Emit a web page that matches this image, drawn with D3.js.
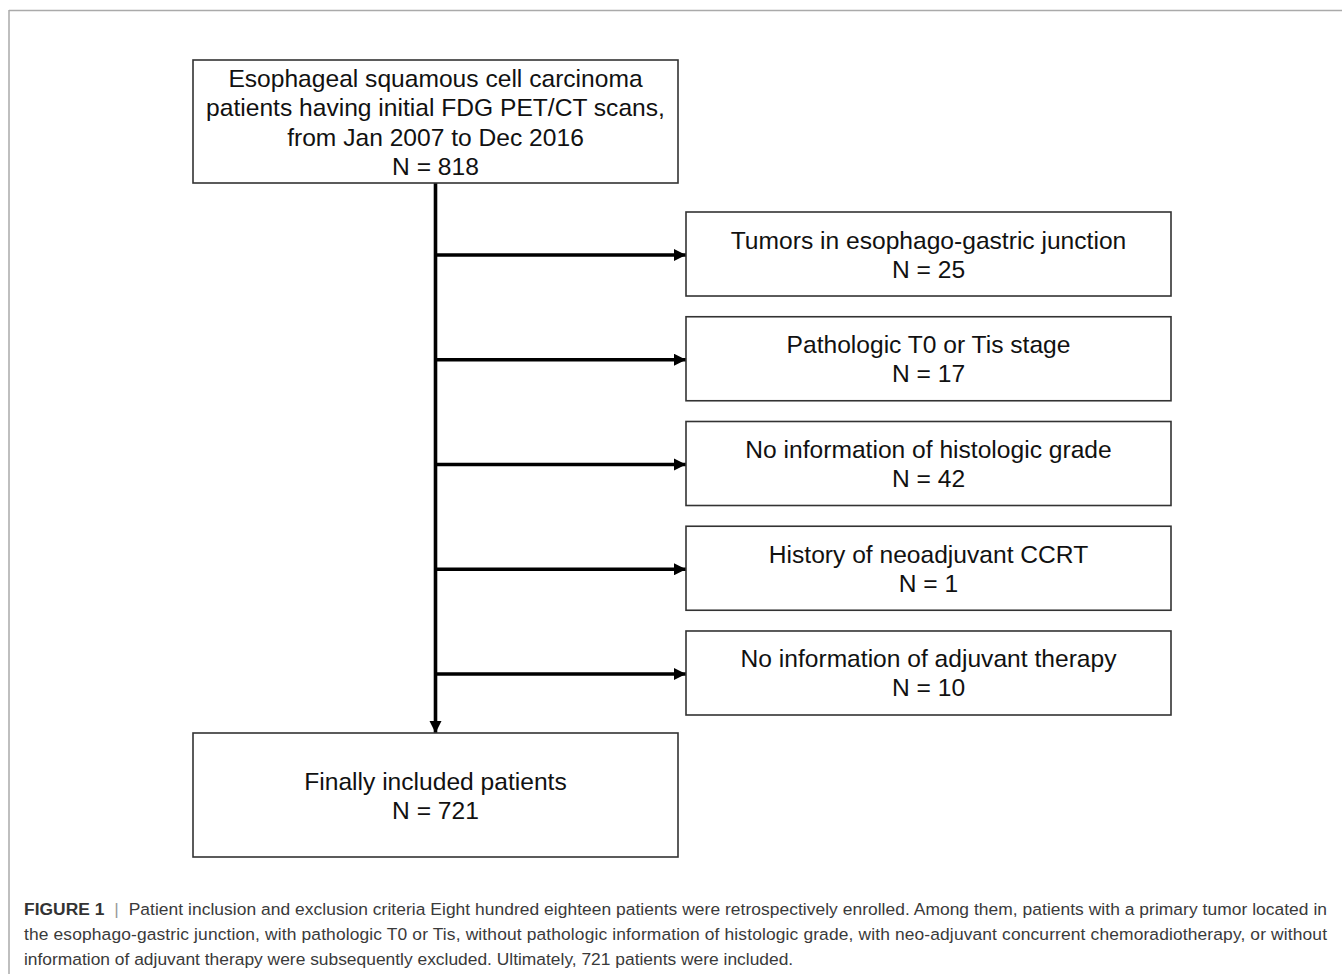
<!DOCTYPE html>
<html>
<head>
<meta charset="utf-8">
<script src="https://cdn.jsdelivr.net/npm/d3@7"></script>
<style>
  html, body { margin: 0; padding: 0; background: #fff; }
  svg { display: block; }
  .box { fill: #fff; stroke: #333; stroke-width: 1.6; }
  .box-text { font-family: "Liberation Sans", Arial, sans-serif; font-size: 24.6px; fill: #111; text-anchor: middle; }
  .caption { font-family: "Liberation Sans", Arial, sans-serif; font-size: 17.4px; fill: #3a3a3a; }
</style>
</head>
<body>
<div id="chart"></div>
<script>
// ---------- Data ----------
const startLines = [
    'Esophageal squamous cell carcinoma',
    'patients having initial FDG PET/CT scans,',
    'from Jan 2007 to Dec 2016'
];
const startCount = 818;

const excludedLabels = [
    'Tumors in esophago-gastric junction',
    'Pathologic T0 or Tis stage',
    'No information of histologic grade',
    'History of neoadjuvant CCRT',
    'No information of adjuvant therapy'
];
const excludedCounts = [25, 17, 42, 1, 10];

const finalLabel = 'Finally included patients';
const finalCount = 721;

const captionTitle = 'FIGURE 1';
const captionLines = [
    'Patient inclusion and exclusion criteria Eight hundred eighteen patients were retrospectively enrolled. Among them, patients with a primary tumor located in',
    'the esophago-gastric junction, with pathologic T0 or Tis, without pathologic information of histologic grade, with neo-adjuvant concurrent chemoradiotherapy, or without',
    'information of adjuvant therapy were subsequently excluded. Ultimately, 721 patients were included.'
];

// ---------- Layout ----------
const width = 1342, height = 974;
const mainX = [193, 678];
const sideX = [686, 1171];
const spineX = (mainX[0] + mainX[1]) / 2;
const topBox = [60, 183];
const bottomBox = [733, 857];

const svg = d3.select('#chart').append('svg')
    .attr('width', width)
    .attr('height', height);

svg.append('defs').append('marker')
    .attr('id', 'head')
    .attr('viewBox', '0 0 10 10')
    .attr('refX', 10).attr('refY', 5)
    .attr('markerWidth', 3.5).attr('markerHeight', 3.4)
    .attr('markerUnits', 'strokeWidth')
    .attr('orient', 'auto')
    .append('path')
    .attr('d', 'M0,0 L10,5 L0,10 Z')
    .attr('fill', '#000');

// outer frame (top and left rules)
svg.append('line').attr('x1', 9).attr('x2', width).attr('y1', 10.5).attr('y2', 10.5)
    .attr('stroke', '#aaa').attr('stroke-width', 1.5);
svg.append('line').attr('x1', 9).attr('x2', 9).attr('y1', 10).attr('y2', height)
    .attr('stroke', '#aaa').attr('stroke-width', 1.5);

// ---------- Scales ----------
const yExcl = d3.scaleBand()
    .domain(d3.range(excludedLabels.length))
    .range([212, 715])
    .paddingInner(0.198)
    .paddingOuter(0);

// ---------- Connectors ----------
const links = svg.append('g').attr('stroke', '#000').attr('fill', 'none');

links.append('line')
    .attr('x1', spineX).attr('x2', spineX)
    .attr('y1', topBox[1]).attr('y2', bottomBox[0])
    .attr('stroke-width', 3.6)
    .attr('marker-end', 'url(#head)');

links.selectAll('line.branch')
    .data(excludedCounts)
    .join('line')
    .attr('class', 'branch')
    .attr('x1', spineX - 1.5).attr('x2', sideX[0])
    .attr('y1', (d, i) => yExcl(i) + yExcl.bandwidth() / 2 + 1)
    .attr('y2', (d, i) => yExcl(i) + yExcl.bandwidth() / 2 + 1)
    .attr('stroke-width', 3.6)
    .attr('marker-end', 'url(#head)');

// ---------- Boxes ----------
function drawBox(x0, x1, y0, y1, lines, firstOffset, lineGap) {
    const g = svg.append('g');
    g.append('rect').attr('class', 'box')
        .attr('x', x0).attr('y', y0)
        .attr('width', x1 - x0).attr('height', y1 - y0);
    g.selectAll('text')
        .data(lines)
        .join('text')
        .attr('class', 'box-text')
        .attr('x', (x0 + x1) / 2)
        .attr('y', (d, i) => y0 + firstOffset + i * lineGap)
        .text(d => d);
}

drawBox(mainX[0], mainX[1], topBox[0], topBox[1],
    [...startLines, `N = ${startCount}`], 26.5, 29.5);

excludedLabels.forEach((label, i) => {
    const y0 = yExcl(i);
    drawBox(sideX[0], sideX[1], y0, y0 + yExcl.bandwidth(),
        [label, `N = ${excludedCounts[i]}`], 36.5, 29);
});

drawBox(mainX[0], mainX[1], bottomBox[0], bottomBox[1],
    [finalLabel, `N = ${finalCount}`], 56.5, 29);

// ---------- Caption ----------
const capLeft = 24, capRight = 1327;
const cap = svg.append('g').attr('class', 'caption');
captionLines.forEach((line, i) => {
    const t = cap.append('text')
        .attr('x', capLeft)
        .attr('y', 915 + i * 25);
    if (i === 0) {
        t.append('tspan').attr('font-weight', 'bold').attr('fill', '#333').text(captionTitle);
        t.append('tspan').attr('fill', '#999').text('\u00a0\u00a0|\u00a0\u00a0');
    }
    t.append('tspan').text(line);
    if (i < captionLines.length - 1) {
        t.attr('textLength', capRight - capLeft).attr('lengthAdjust', 'spacing');
    }
});
</script>
</body>
</html>
